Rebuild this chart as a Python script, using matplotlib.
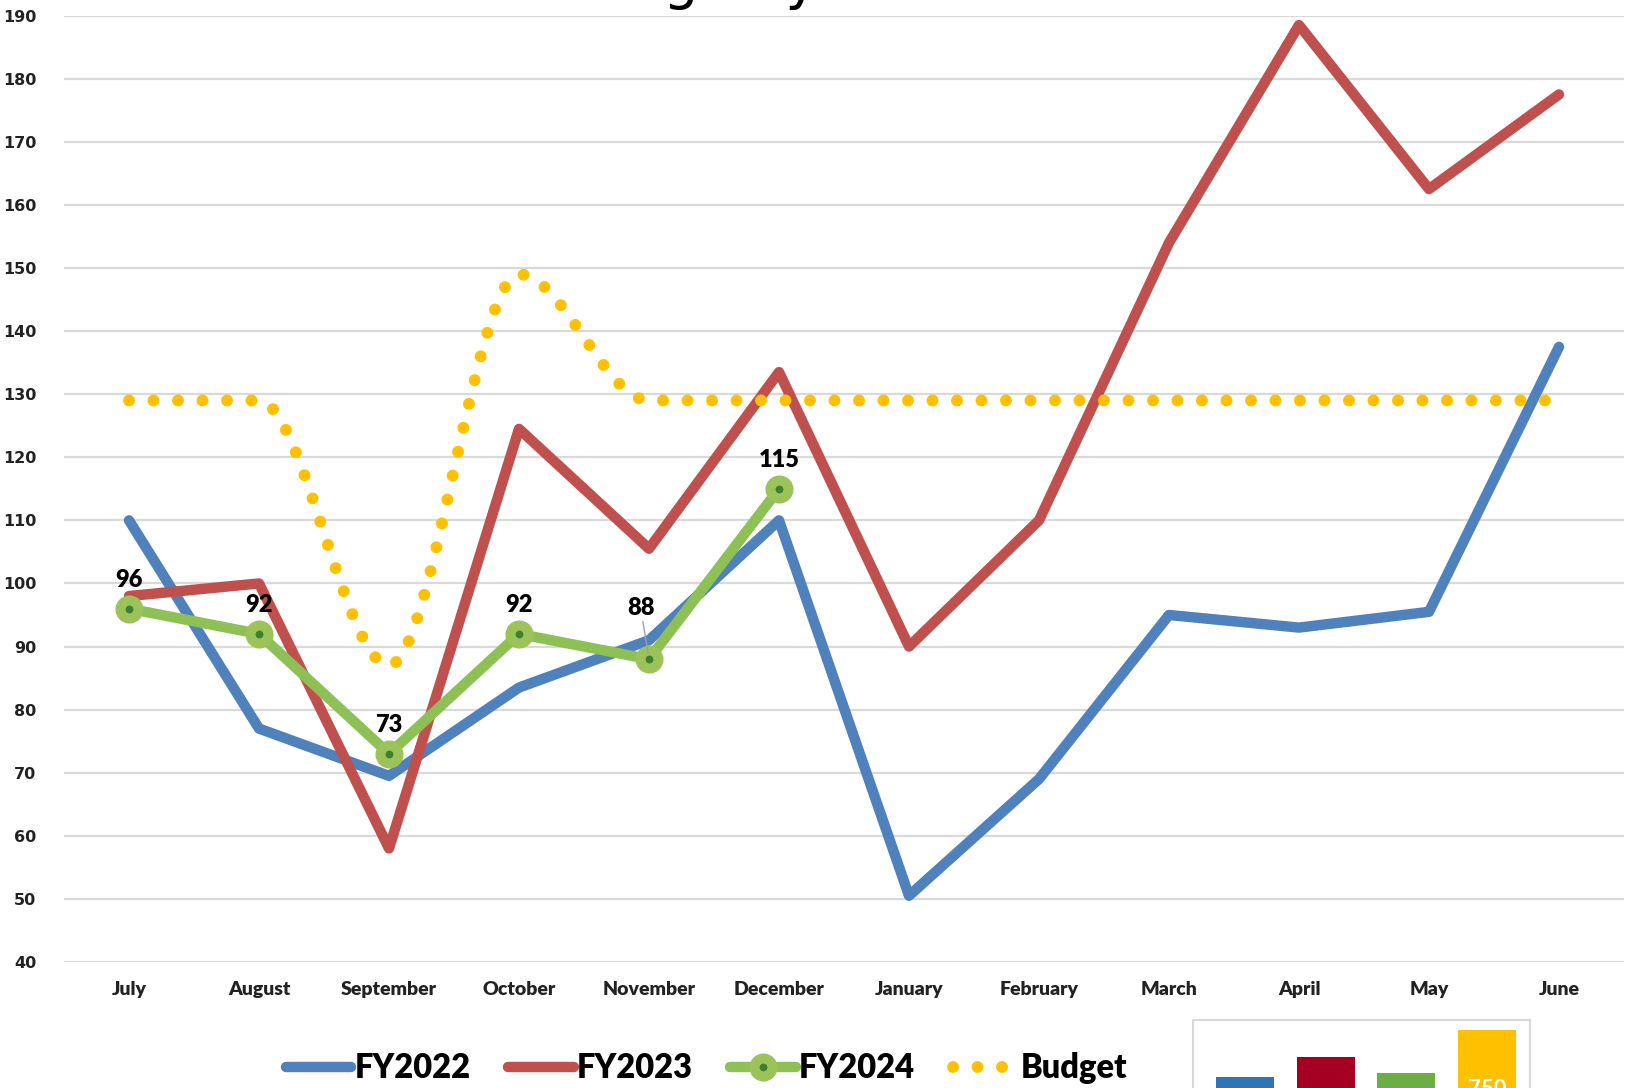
import numpy as np
import matplotlib
matplotlib.use("Agg")
import matplotlib.pyplot as plt
from matplotlib.lines import Line2D

months = ["July", "August", "September", "October", "November", "December",
          "January", "February", "March", "April", "May", "June"]
fy2022 = [110, 77, 69.5, 83.5, 91, 110, 50.5, 69, 95, 93, 95.5, 137.5]
fy2023 = [98, 100, 58, 124.5, 105.5, 133.5, 90, 110, 154, 188.5, 162.5, 177.5]
fy2024 = [96, 92, 73, 92, 88, 115]
budget = [129, 129, 87, 149, 129, 129, 129, 129, 129, 129, 129, 129]
yticks = list(range(40, 191, 10))

inset_labels = ["FY2022", "FY2023", "FY2024", "Budget"]
inset_values = [630, 680, 640, 750]

C_BLUE = "#4F81BD"
C_RED = "#C0504D"
C_GREEN = "#8DC055"
C_GOLD = "#FFC000"

W, H = 1627, 1088
fig = plt.figure(figsize=(W / 100, H / 100), dpi=100)
ax = fig.add_axes([64 / W, 1 - 962 / H, (1624 - 64) / W, (962 - 15.6) / H])

x = np.arange(len(months))


def pchip(xs, ys, n=40):
    """Monotone cubic (Fritsch-Carlson) smoothing through the data points."""
    xs = np.asarray(xs, float)
    ys = np.asarray(ys, float)
    h = np.diff(xs)
    d = np.diff(ys) / h
    m = np.zeros_like(ys)
    for k in range(1, len(ys) - 1):
        if d[k - 1] * d[k] > 0:
            w1 = 2 * h[k] + h[k - 1]
            w2 = h[k] + 2 * h[k - 1]
            m[k] = (w1 + w2) / (w1 / d[k - 1] + w2 / d[k])
        else:
            m[k] = 0.0
    m[0] = 0.0 if d[0] == 0 else d[0]
    m[-1] = 0.0 if d[-1] == 0 else d[-1]
    outx, outy = [], []
    for k in range(len(xs) - 1):
        t = np.linspace(0, 1, n, endpoint=False)
        h00 = 2 * t ** 3 - 3 * t ** 2 + 1
        h10 = t ** 3 - 2 * t ** 2 + t
        h01 = -2 * t ** 3 + 3 * t ** 2
        h11 = t ** 3 - t ** 2
        outx.extend(xs[k] + t * h[k])
        outy.extend(h00 * ys[k] + h10 * h[k] * m[k] + h01 * ys[k + 1] + h11 * h[k] * m[k + 1])
    outx.append(xs[-1])
    outy.append(ys[-1])
    return np.array(outx), np.array(outy)


lw = 7.5
ax.plot(x, fy2022, color=C_BLUE, lw=lw, solid_capstyle="round", solid_joinstyle="round", zorder=3)
ax.plot(x, fy2023, color=C_RED, lw=lw, solid_capstyle="round", solid_joinstyle="round", zorder=4)
x24 = np.arange(len(fy2024))
ax.plot(x24, fy2024, color=C_GREEN, lw=lw, solid_capstyle="round", solid_joinstyle="round",
        marker="o", ms=13, mew=7.2, mfc="#3F7F2F", mec="#9CC35A", zorder=5)
bx, by = pchip(x, budget)
ax.plot(bx, by, color=C_GOLD, lw=8.6, linestyle=(0, (0.001, 2.05)),
        dash_capstyle="round", zorder=6)

# data labels
for i, v in enumerate(fy2024):
    if i == 4:
        ax.annotate(f"{v:g}", xy=(i, v), xytext=(-6, 29), textcoords="offset points",
                    ha="center", va="bottom", fontsize=17, fontweight="heavy",
                    family="Lato", color="black", zorder=7,
                    arrowprops=dict(arrowstyle="-", color="#A0A0A0", lw=1,
                                    shrinkA=0, shrinkB=4))
    else:
        ax.annotate(f"{v:g}", xy=(i, v), xytext=(0, 13), textcoords="offset points",
                    ha="center", va="bottom", fontsize=17, fontweight="heavy",
                    family="Lato", color="black", zorder=7)

ax.set_xlim(-0.5, len(months) - 0.5)
ax.set_ylim(40, 190)
ax.set_yticks(yticks)
ax.set_yticklabels([str(t) for t in yticks], fontsize=11.5, fontweight="bold",
                   family="DejaVu Sans", color="#222222")
ax.set_xticks(x)
ax.set_xticklabels(months, fontsize=14, fontweight="heavy", family="Lato", color="#222222")
ax.tick_params(axis="both", length=0)
ax.tick_params(axis="y", pad=20)
ax.tick_params(axis="x", pad=14)
for s in ax.spines.values():
    s.set_visible(False)
ax.grid(axis="y", color="#D9D9D9", lw=1.6, zorder=0)
ax.set_axisbelow(True)

# title, mostly above the picture's top edge as in the reference
fig.text(286 / W, 1.002, "Census Average by Month", fontsize=40, family="DejaVu Sans",
         ha="left", va="baseline", color="black")

# legend
handles = [
    Line2D([], [], color=C_BLUE, lw=lw, solid_capstyle="round"),
    Line2D([], [], color=C_RED, lw=lw, solid_capstyle="round"),
    Line2D([], [], color=C_GREEN, lw=lw, solid_capstyle="round", marker="o", ms=13, mew=7.2,
           mfc="#3F7F2F", mec="#9CC35A"),
    Line2D([], [], color=C_GOLD, lw=8.6, linestyle=(0, (0.001, 2.05)), dash_capstyle="round"),
]
fig.legend(handles, ["FY2022", "FY2023", "FY2024", "Budget"], loc="center",
           bbox_to_anchor=(707 / W, 0.018), ncol=4, frameon=False,
           prop=dict(family="Lato", weight="heavy", size=23.5),
           handlelength=2.0, handletextpad=0.1, columnspacing=1.15, numpoints=1)

# inset bar chart (partially cut off at bottom)
iax = fig.add_axes([1193 / W, 1 - 1340 / H, (1530 - 1193) / W, (1340 - 1020) / H])
ix = np.arange(len(inset_values))
iax.bar(ix, inset_values, width=0.72, color=["#2E75B6", "#A50021", "#6AAE45", C_GOLD])
iax.text(3, inset_values[3] - 127, f"{inset_values[3]}", ha="center", va="top", color="white",
         fontsize=16, fontweight="bold", family="Lato")
iax.set_xlim(-0.645, 3.536)
iax.set_ylim(-52, 777)
iax.set_xticks([])
iax.set_yticks([])
for s in iax.spines.values():
    s.set_color("#D9D9D9")
    s.set_linewidth(1.5)

fig.savefig("out.png", dpi=100)
